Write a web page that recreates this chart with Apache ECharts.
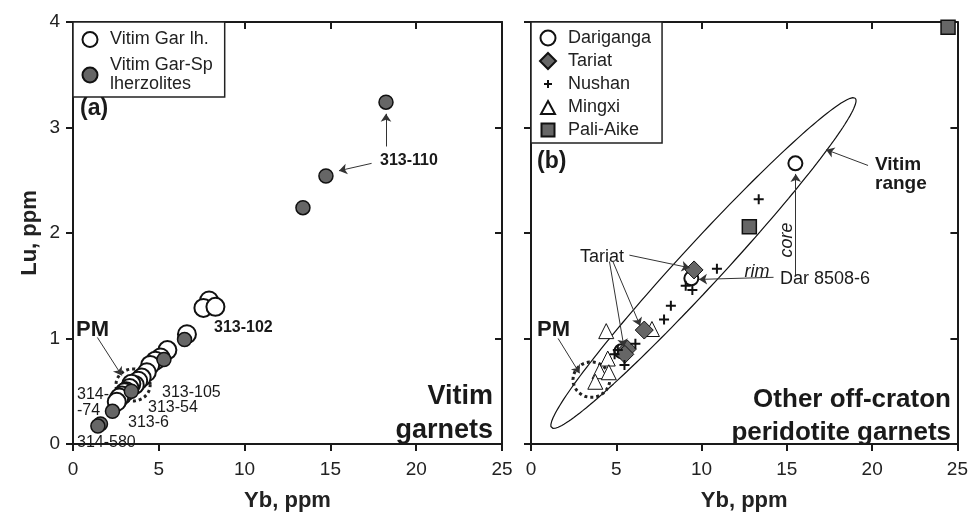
<!DOCTYPE html>
<html>
<head>
<meta charset="utf-8">
<script src="https://cdn.jsdelivr.net/npm/echarts@6/dist/echarts.min.js"></script>
<style>html,body{margin:0;padding:0;background:#fff}#chart{width:971px;height:517px}</style>
</head>
<body>
<div id="chart"></div>
<script>
// Yb, Lu (ppm)
var vitimGarLh = [[7.93,1.36],[7.6,1.29],[8.3,1.30],[6.64,1.04],[5.5,0.89],[5.1,0.82],[4.8,0.79],[4.5,0.75],
    [4.3,0.68],[4.0,0.63],[3.8,0.60],[3.6,0.56],[3.4,0.57],[3.3,0.53],[3.1,0.50],[3.0,0.49],[2.85,0.46],[2.7,0.44],[2.55,0.40]];
var vitimGarSp = [[18.24,3.24],[14.74,2.54],[13.4,2.24],[6.5,0.99],[5.3,0.80],[3.4,0.50],[2.3,0.31],[1.6,0.19],[1.45,0.17]];
var dariganga = [[15.5,2.66],[9.4,1.57],[5.3,0.88]];
var tariat = [[9.56,1.65],[6.64,1.08],[5.65,0.90],[5.5,0.85]];
var nushan = [[13.35,2.32],[10.9,1.66],[9.07,1.50],[9.46,1.46],[8.2,1.31],[7.8,1.18],[6.12,0.95],[5.09,0.89],[4.9,0.85],[5.48,0.75]];
var mingxi = [[4.41,1.07],[7.09,1.09],[4.5,0.81],[4.02,0.69],[4.56,0.68],[3.77,0.59]];
var paliAike = [[24.45,3.95],[12.8,2.06]];
var xTicks = [0, 5, 10, 15, 20, 25];
var yTicks = [0, 1, 2, 3, 4];

var FONT = 'Liberation Sans, Arial, sans-serif';
var yScale = 6.24; // screen length of 1 ppm Lu in Yb units

function ellipsePoints(cx, cy, a, b, angleDeg, n) {
    var pts = [], t = angleDeg * Math.PI / 180;
    for (var i = 0; i <= n; i++) {
        var s = 2 * Math.PI * i / n;
        var u = a * Math.cos(s), v = b * Math.sin(s);
        pts.push([cx + u * Math.cos(t) - v * Math.sin(t), cy + (u * Math.sin(t) + v * Math.cos(t)) / yScale]);
    }
    return pts;
}

var dom = document.getElementById('chart');
var myChart = echarts.init(dom, null, {renderer: 'canvas'});

var axisLine = {show: true, onZero: false, lineStyle: {color: '#1a1a1a', width: 2}};
function xAxis(grid, pos, labels) {
    return {
        type: 'value', gridIndex: grid, position: pos, min: xTicks[0], max: xTicks[xTicks.length - 1], interval: 5,
        axisLine: axisLine, splitLine: {show: false},
        axisTick: {show: true, inside: pos === 'top', length: 7, lineStyle: {color: '#1a1a1a', width: 2}},
        axisLabel: {show: labels, margin: 16, fontSize: 19, color: '#222', fontFamily: FONT},
        name: labels ? 'Yb, ppm' : '', nameLocation: 'middle', nameGap: 46,
        nameTextStyle: {fontSize: 22, fontWeight: 'bold', color: '#222', fontFamily: FONT}
    };
}
function yAxis(grid, pos, labels, outside) {
    return {
        type: 'value', gridIndex: grid, position: pos, min: yTicks[0], max: yTicks[yTicks.length - 1], interval: 1,
        axisLine: axisLine, splitLine: {show: false},
        axisTick: {show: true, inside: !outside, length: 7, lineStyle: {color: '#1a1a1a', width: 2}},
        axisLabel: {show: labels, margin: 13, fontSize: 19, color: '#222', fontFamily: FONT},
        name: labels ? 'Lu, ppm' : '', nameLocation: 'middle', nameGap: 32,
        nameTextStyle: {fontSize: 22, fontWeight: 'bold', color: '#222', fontFamily: FONT}
    };
}

function arrows(list) {
    return {
        silent: true, symbol: ['none', 'arrow'], symbolSize: 8,
        label: {show: false}, itemStyle: {color: '#333'},
        lineStyle: {color: '#333', width: 1, type: 'solid'},
        emphasis: {disabled: true},
        data: list.map(function (p) { return [{coord: p[0]}, {coord: p[1]}]; })
    };
}

function txt(x, y, text, size, opts) {
    opts = opts || {};
    return {
        type: 'text', x: x, y: y, rotation: opts.rot || 0, z: 100,
        style: {
            text: text, fill: '#1a1a1a', align: opts.align || 'left', verticalAlign: 'middle',
            textAlign: opts.align || 'left', textVerticalAlign: 'middle',
            font: (opts.italic ? 'italic ' : '') + (opts.bold ? 'bold ' : '') + size + 'px ' + FONT
        }
    };
}

var plusPath = 'path://M4,0H6V4H10V6H6V10H4V6H0V4H4Z';
// legend icons in a 30x16 box so the text sits where it does in the figure
var box = 'path://M0,0ZM30,16Z';
var iconCircle = box + 'M22.5,8A7.5,7.5,0,1,1,7.5,8A7.5,7.5,0,1,1,22.5,8Z';
var iconDiamond = box + 'M15,0L23,8L15,16L7,8Z';
var iconPlus = box + 'M14,4H16V7H19V9H16V12H14V9H11V7H14Z';
var iconTriangle = box + 'M15,2L22,15H8Z';
var iconSquare = box + 'M8.5,1.5H21.5V14.5H8.5Z';

var scatterBase = {type: 'scatter', silent: true, emphasis: {disabled: true}};
function scatter(name, data, xi, symbol, size, fill, bw, z) {
    return Object.assign({}, scatterBase, {
        name: name, data: data, xAxisIndex: xi, yAxisIndex: xi, symbol: symbol, symbolSize: size, z: z,
        itemStyle: {color: fill, borderColor: '#111', borderWidth: bw, opacity: 1}
    });
}

var option = {
    animation: false,
    grid: [
        {left: 73, top: 22, width: 429, height: 428},
        {left: 531, top: 22, width: 429, height: 428}
    ],
    xAxis: [xAxis(0, 'bottom', true), xAxis(0, 'top', false), xAxis(1, 'bottom', true), xAxis(1, 'top', false)],
    yAxis: [yAxis(0, 'left', true, true), yAxis(0, 'right', false, false), yAxis(1, 'left', false, true), yAxis(1, 'right', false, false)],
    legend: [{
        left: 73, top: 22, orient: 'vertical', selectedMode: false,
        data: [{name: 'Vitim Gar lh.', icon: iconCircle}, {name: 'Vitim Gar-Sp lherzolites', icon: iconCircle}],
        formatter: function (n) { return n.replace(' lherz', '\nlherz'); },
        backgroundColor: '#fff', borderColor: '#222', borderWidth: 1.5, borderRadius: 0,
        padding: [8, 12, 3, 1], itemWidth: 30, itemHeight: 16, itemGap: 7,
        textStyle: {fontSize: 18, color: '#222', fontFamily: FONT, lineHeight: 19}
    }, {
        left: 531, top: 22, orient: 'vertical', selectedMode: false,
        data: [{name: 'Dariganga', icon: iconCircle}, {name: 'Tariat', icon: iconDiamond}, {name: 'Nushan', icon: iconPlus},
            {name: 'Mingxi', icon: iconTriangle}, {name: 'Pali-Aike', icon: iconSquare}],
        backgroundColor: '#fff', borderColor: '#222', borderWidth: 1.5, borderRadius: 0,
        padding: [7, 11, 4, 1], itemWidth: 30, itemHeight: 16, itemGap: 5,
        textStyle: {fontSize: 18, color: '#222', fontFamily: FONT}
    }],
    series: [
        {type: 'line', xAxisIndex: 0, yAxisIndex: 0, silent: true, showSymbol: false, z: 1,
            data: ellipsePoints(3.5, 0.56, 1.0, 0.95, 0, 60),
            lineStyle: {color: '#222', width: 3, type: [3, 3]},
            markLine: arrows([[[1.42, 1.01], [2.84, 0.65]], [[18.24, 2.82], [18.24, 3.13]], [[17.4, 2.66], [15.5, 2.59]]])},
        scatter('Vitim Gar lh.', vitimGarLh, 0, 'circle', 18, '#fff', 2, 3),
        scatter('Vitim Gar-Sp lherzolites', vitimGarSp, 0, 'circle', 14, '#666', 1.5, 4),
        {type: 'line', xAxisIndex: 2, yAxisIndex: 2, silent: true, showSymbol: false, z: 1,
            data: ellipsePoints(10.11, 1.715, 13.2, 1.25, 47.6, 180),
            lineStyle: {color: '#111', width: 1.2},
            markLine: arrows([[[1.59, 1.0], [2.85, 0.67]], [[19.76, 2.64], [17.3, 2.79]], [[5.77, 1.79], [9.3, 1.67]],
                [[4.6, 1.73], [5.45, 0.92]], [[4.8, 1.73], [6.4, 1.12]], [[15.52, 1.59], [15.52, 2.56]], [[14.22, 1.58], [9.85, 1.56]]])},
        {type: 'line', xAxisIndex: 2, yAxisIndex: 2, silent: true, showSymbol: false, z: 1,
            data: ellipsePoints(3.54, 0.61, 1.08, 1.05, 0, 60),
            lineStyle: {color: '#222', width: 3, type: [3, 3]}},
        scatter('Dariganga', dariganga, 2, 'circle', 14, '#fff', 2, 3),
        scatter('Tariat', tariat, 2, 'diamond', 18, '#666', 1, 4),
        scatter('Nushan', nushan, 2, plusPath, 10, '#111', 0, 5),
        scatter('Mingxi', mingxi, 2, 'triangle', 15, '#fff', 1, 3),
        scatter('Pali-Aike', paliAike, 2, 'rect', 14, '#666', 1.5, 4)
    ],
    graphic: [
        txt(80, 109, '(a)', 23, {bold: true}),
        txt(76, 330, 'PM', 22, {bold: true}),
        txt(77, 395, '314-', 16), txt(77, 411, '-74', 16),
        txt(162, 393, '313-105', 16), txt(148, 408, '313-54', 16),
        txt(128, 423, '313-6', 16), txt(77, 443, '314-580', 16),
        txt(214, 328, '313-102', 16, {bold: true}),
        txt(380, 161, '313-110', 16, {bold: true}),
        txt(493, 397, 'Vitim', 27, {bold: true, align: 'right'}),
        txt(493, 431, 'garnets', 27, {bold: true, align: 'right'}),
        txt(537, 162, '(b)', 23, {bold: true}),
        txt(537, 330, 'PM', 22, {bold: true}),
        txt(580, 257, 'Tariat', 18),
        txt(875, 165, 'Vitim', 19, {bold: true}), txt(875, 184, 'range', 19, {bold: true}),
        txt(787, 240, 'core', 18, {italic: true, align: 'center', rot: Math.PI / 2}),
        txt(757, 272, 'rim', 18, {italic: true, align: 'center'}),
        txt(780, 279, 'Dar 8508-6', 18),
        txt(951, 400, 'Other off-craton', 26, {bold: true, align: 'right'}),
        txt(951, 433, 'peridotite garnets', 26, {bold: true, align: 'right'})
    ]
};

if (option && typeof option === 'object') {
    myChart.setOption(option);
}
window.addEventListener('resize', myChart.resize);
</script>
</body>
</html>
